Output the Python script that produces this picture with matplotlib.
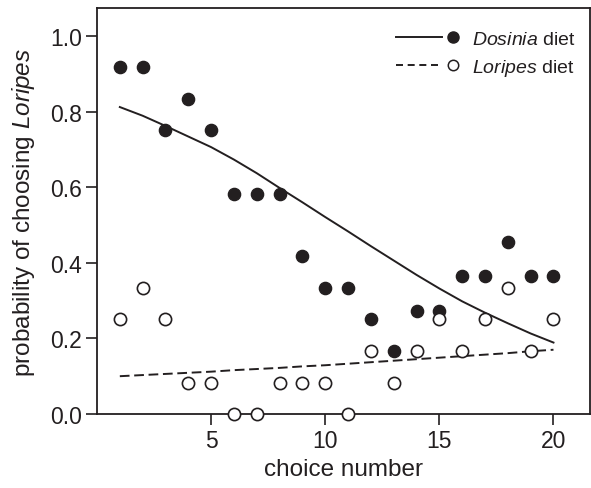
import matplotlib
matplotlib.use("Agg")
import matplotlib.pyplot as plt
from matplotlib.legend_handler import HandlerTuple
from matplotlib.lines import Line2D

plt.rcParams['font.family'] = ['Liberation Sans', 'DejaVu Sans']
plt.rcParams['mathtext.fontset'] = 'custom'
plt.rcParams['mathtext.rm'] = 'Liberation Sans'
plt.rcParams['mathtext.it'] = 'Liberation Sans:italic'

# Data
choice = list(range(1, 21))
dosinia_obs = [0.917, 0.917, 0.750, 0.833, 0.750, 0.583, 0.583, 0.583, 0.417, 0.333,
               0.333, 0.250, 0.167, 0.273, 0.273, 0.364, 0.364, 0.455, 0.364, 0.364]
loripes_obs = [0.250, 0.333, 0.250, 0.083, 0.083, 0.000, 0.000, 0.083, 0.083, 0.083,
               0.000, 0.167, 0.083, 0.167, 0.250, 0.167, 0.250, 0.333, 0.167, 0.250]
# fitted curves
dosinia_fit = [0.812, 0.789, 0.762, 0.734, 0.706, 0.673, 0.637, 0.598, 0.560, 0.521,
               0.483, 0.444, 0.406, 0.368, 0.332, 0.298, 0.268, 0.240, 0.213, 0.189]
loripes_fit = [0.100, 0.103, 0.106, 0.109, 0.112, 0.116, 0.119, 0.122, 0.126, 0.129,
               0.133, 0.137, 0.141, 0.145, 0.149, 0.153, 0.157, 0.161, 0.166, 0.170]
yticks = [0.0, 0.2, 0.4, 0.6, 0.8, 1.0]
xticks = [5, 10, 15, 20]

ink = '#231f20'
fig = plt.figure(figsize=(5.91, 4.89), dpi=100)
ax = fig.add_axes([97/591, 1 - 415/489, (590 - 97)/591, (415 - 9)/489])

ax.plot(choice, dosinia_fit, '-', color=ink, lw=1.4)
ax.plot(choice, loripes_fit, '--', color=ink, lw=1.4, dashes=(5, 2.4))
ax.plot(choice, dosinia_obs, 'o', ms=8.8, color=ink, mec=ink, ls='none', clip_on=False, zorder=3)
ax.plot(choice, loripes_obs, 'o', ms=8.8, mfc='white', mec=ink, mew=1.2, ls='none', clip_on=False, zorder=3)

ax.set_xlim(0, 21.6)
ax.set_ylim(0, 1.074)
ax.set_xticks(xticks)
ax.set_yticks(yticks)
ax.set_yticklabels([f"{v:.1f}" for v in yticks])
ax.tick_params(axis='both', direction='out', length=8, width=1.2, colors=ink, labelsize=16.5, pad=3)
for s in ax.spines.values():
    s.set_color(ink)
    s.set_linewidth(1.3)

ax.set_xlabel('choice number', fontsize=17.5, color=ink, labelpad=4)
ax.set_ylabel(r'probability of choosing $\it{Loripes}$', fontsize=17.5, color=ink, labelpad=9)

h1 = (Line2D([], [], color=ink, lw=1.4), Line2D([], [], marker='o', ms=8, color=ink, ls='none'))
h2 = (Line2D([], [], color=ink, lw=1.4, ls='--', dashes=(3.6, 2.4)),
      Line2D([], [], marker='o', ms=7.5, mfc='white', mec=ink, mew=1.1, ls='none'))
leg = ax.legend([h1, h2], [r'$\it{Dosinia}$ diet', r'$\it{Loripes}$ diet'],
                handler_map={tuple: HandlerTuple(ndivide=None, pad=-0.62)},
                handlelength=4.12, handletextpad=-0.2, labelspacing=0.48,
                frameon=False, fontsize=14, loc='upper left',
                bbox_to_anchor=(0.607, 0.945), borderpad=0, borderaxespad=0)
for t in leg.get_texts():
    t.set_color(ink)

fig.savefig('out.png', dpi=100)
